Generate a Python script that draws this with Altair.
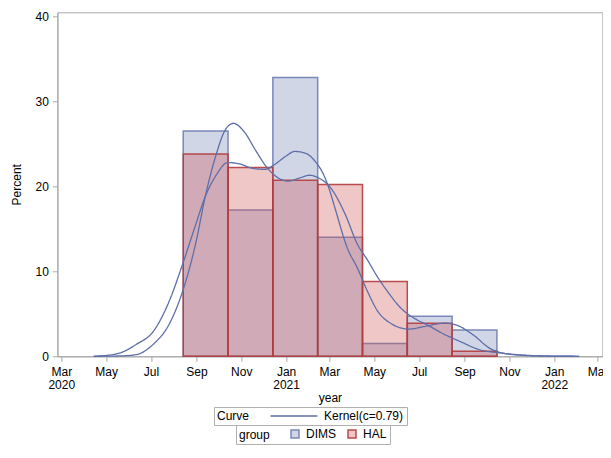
import altair as alt
import pandas as pd

groups = ["DIMS", "HAL"]
bin_starts = ["2020-08-14", "2020-10-14", "2020-12-14", "2021-02-13",
              "2021-04-15", "2021-06-15", "2021-08-15"]
bin_ends = ["2020-10-14", "2020-12-14", "2021-02-13", "2021-04-15",
            "2021-06-15", "2021-08-15", "2021-10-15"]
dims_pct = [26.5, 17.2, 32.8, 14.0, 1.5, 4.7, 3.1]
hal_pct = [23.8, 22.2, 20.7, 20.2, 8.8, 3.9, 0.6]

dims_kde_dates = ["2020-04-14", "2020-05-01", "2020-05-22", "2020-06-11", "2020-07-04",
                  "2020-07-26", "2020-08-13", "2020-08-31", "2020-09-13", "2020-09-27",
                  "2020-10-14", "2020-10-31", "2020-11-17", "2020-12-03", "2020-12-17",
                  "2020-12-31", "2021-01-13", "2021-01-27", "2021-02-09", "2021-02-23",
                  "2021-03-01", "2021-03-08", "2021-03-26", "2021-04-08", "2021-04-22",
                  "2021-05-05", "2021-05-25", "2021-06-17", "2021-07-08", "2021-08-04",
                  "2021-08-20", "2021-09-13", "2021-10-06", "2021-11-06", "2021-12-17",
                  "2022-02-04"]
dims_kde = [0.0, 0.1, 0.45, 1.4, 2.9,
            6.5, 10.8, 15.5, 18.8, 21.2,
            22.8, 22.6, 22.1, 22.0, 22.6,
            23.5, 24.1, 23.9, 23.0, 21.0,
            19.6, 17.6, 12.6, 10.4, 7.6,
            5.4, 3.8, 3.2, 3.5, 3.9,
            3.7, 2.5, 0.9, 0.2, 0.03,
            0.0]

hal_kde_dates = ["2020-04-14", "2020-05-22", "2020-06-11", "2020-07-04", "2020-07-26",
                 "2020-08-13", "2020-08-31", "2020-09-13", "2020-09-27", "2020-10-10",
                 "2020-10-21", "2020-11-06", "2020-11-20", "2020-12-07", "2020-12-21",
                 "2021-01-04", "2021-01-20", "2021-02-02", "2021-02-16", "2021-03-01",
                 "2021-03-22", "2021-04-08", "2021-04-22", "2021-05-05", "2021-05-21",
                 "2021-06-07", "2021-06-24", "2021-07-12", "2021-08-04", "2021-08-27",
                 "2021-09-17", "2021-10-24", "2021-12-17", "2022-02-04"]
hal_kde = [0.0, 0.05, 0.2, 1.4, 3.8,
           7.6, 13.3, 18.8, 23.5, 26.6,
           27.4, 26.3, 24.3, 22.1, 21.0,
           20.6, 21.0, 21.3, 20.9, 20.0,
           16.8, 13.2, 11.3, 9.4, 7.4,
           5.6, 4.5, 3.7, 2.6, 1.7,
           0.9, 0.35, 0.05, 0.0]

curve_label = "Kernel(c=0.79)"
tick_months = [(2020, 3), (2020, 5), (2020, 7), (2020, 9), (2020, 11), (2021, 1),
               (2021, 3), (2021, 5), (2021, 7), (2021, 9), (2021, 11), (2022, 1), (2022, 3)]
y_ticks = [0, 10, 20, 30, 40]

bars_df = pd.DataFrame({
    "group": ["DIMS"] * len(dims_pct) + ["HAL"] * len(hal_pct),
    "start": bin_starts * 2,
    "end": bin_ends * 2,
    "pct": dims_pct + hal_pct,
})
kde_df = pd.DataFrame({
    "group": ["DIMS"] * len(dims_kde) + ["HAL"] * len(hal_kde),
    "date": dims_kde_dates + hal_kde_dates,
    "pct": dims_kde + hal_kde,
    "curve": curve_label,
})

GRAY = "#a8a8a8"
LINE = "#5e6ea8"
xscale = alt.Scale(type="utc", nice=False,
                   domain=[alt.DateTime(year=2020, month=2, date=24, hours=17, utc=True),
                           alt.DateTime(year=2022, month=3, date=7, hours=14, utc=True)])
yscale = alt.Scale(domain=[0, 40.47], nice=False, zero=True)

label_expr = ("(utcmonth(datum.value) == 0 || (utcyear(datum.value) == 2020 && utcmonth(datum.value) == 2))"
              " ? [utcFormat(datum.value, '%b'), utcFormat(datum.value, '%Y')]"
              " : utcFormat(datum.value, '%b')")

xaxis = alt.Axis(values=[alt.DateTime(year=y, month=m, date=1, utc=True) for y, m in tick_months],
                 labelExpr=label_expr, labelFlush=False, labelOverlap=False,
                 tickSize=5, labelPadding=5, labelLineHeight=13, titlePadding=2,
                 grid=False, domainColor=GRAY, tickColor=GRAY)
yaxis = alt.Axis(values=y_ticks, tickSize=5, labelPadding=4, titlePadding=12,
                 grid=False, domainColor=GRAY, tickColor=GRAY)

group_legend = alt.Legend(title="group", orient="none", legendX=178.6, legendY=412.7,
                          direction="horizontal", titleOrient="left", titlePadding=19,
                          symbolType="square", symbolSize=64, labelOffset=5, columnPadding=9,
                          strokeColor="#b0b0b0", padding=3, symbolStrokeWidth=1)

bars = alt.Chart(bars_df).mark_bar().encode(
    x=alt.X("start:T", scale=xscale, axis=xaxis, title="year"),
    x2="end:T",
    y=alt.Y("pct:Q", stack=None, scale=yscale, axis=yaxis, title="Percent"),
    y2=alt.datum(0),
    fill=alt.Fill("group:N", scale=alt.Scale(domain=groups, range=["#6f7eb3", "#cd5050"]),
                  legend=group_legend),
    stroke=alt.Stroke("group:N", scale=alt.Scale(domain=groups, range=["#6f7eb3", "#b23c3c"]),
                      legend=group_legend),
)

lines = alt.Chart(kde_df).mark_line(strokeWidth=1.3, interpolate="monotone", color=LINE).encode(
    x="date:T",
    y="pct:Q",
    detail="group:N",
    strokeDash=alt.StrokeDash(
        "curve:N", scale=alt.Scale(domain=[curve_label], range=[[1, 0]]),
        legend=alt.Legend(title="Curve", orient="none", legendX=156.6, legendY=394.7,
                          direction="horizontal", titleOrient="left", titlePadding=38,
                          symbolType="M-4.7,0L4.7,0", symbolSize=100, symbolStrokeWidth=1.3,
                          symbolStrokeColor=LINE, labelOffset=24,
                          strokeColor="#b0b0b0", padding=3)),
)

chart = alt.layer(bars, lines).properties(
    width=545, height=344,
    autosize=alt.AutoSizeParams(type="none"),
    padding={"left": 49.4, "top": 4.3, "right": 0.6, "bottom": 88.7},
).configure(font="Liberation Sans").configure_axis(
    labelFontSize=12, titleFontSize=12, titleFontWeight="normal",
    labelColor="black", titleColor="black",
).configure_legend(
    labelFontSize=12, titleFontSize=12, titleFontWeight="normal",
    labelColor="black", titleColor="black",
).configure_bar(
    fillOpacity=0.32, strokeWidth=1.5, strokeOpacity=0.9,
).configure_view(stroke=GRAY, strokeWidth=1)

chart.save("out.html", embed_options={"renderer": "svg", "actions": False})
